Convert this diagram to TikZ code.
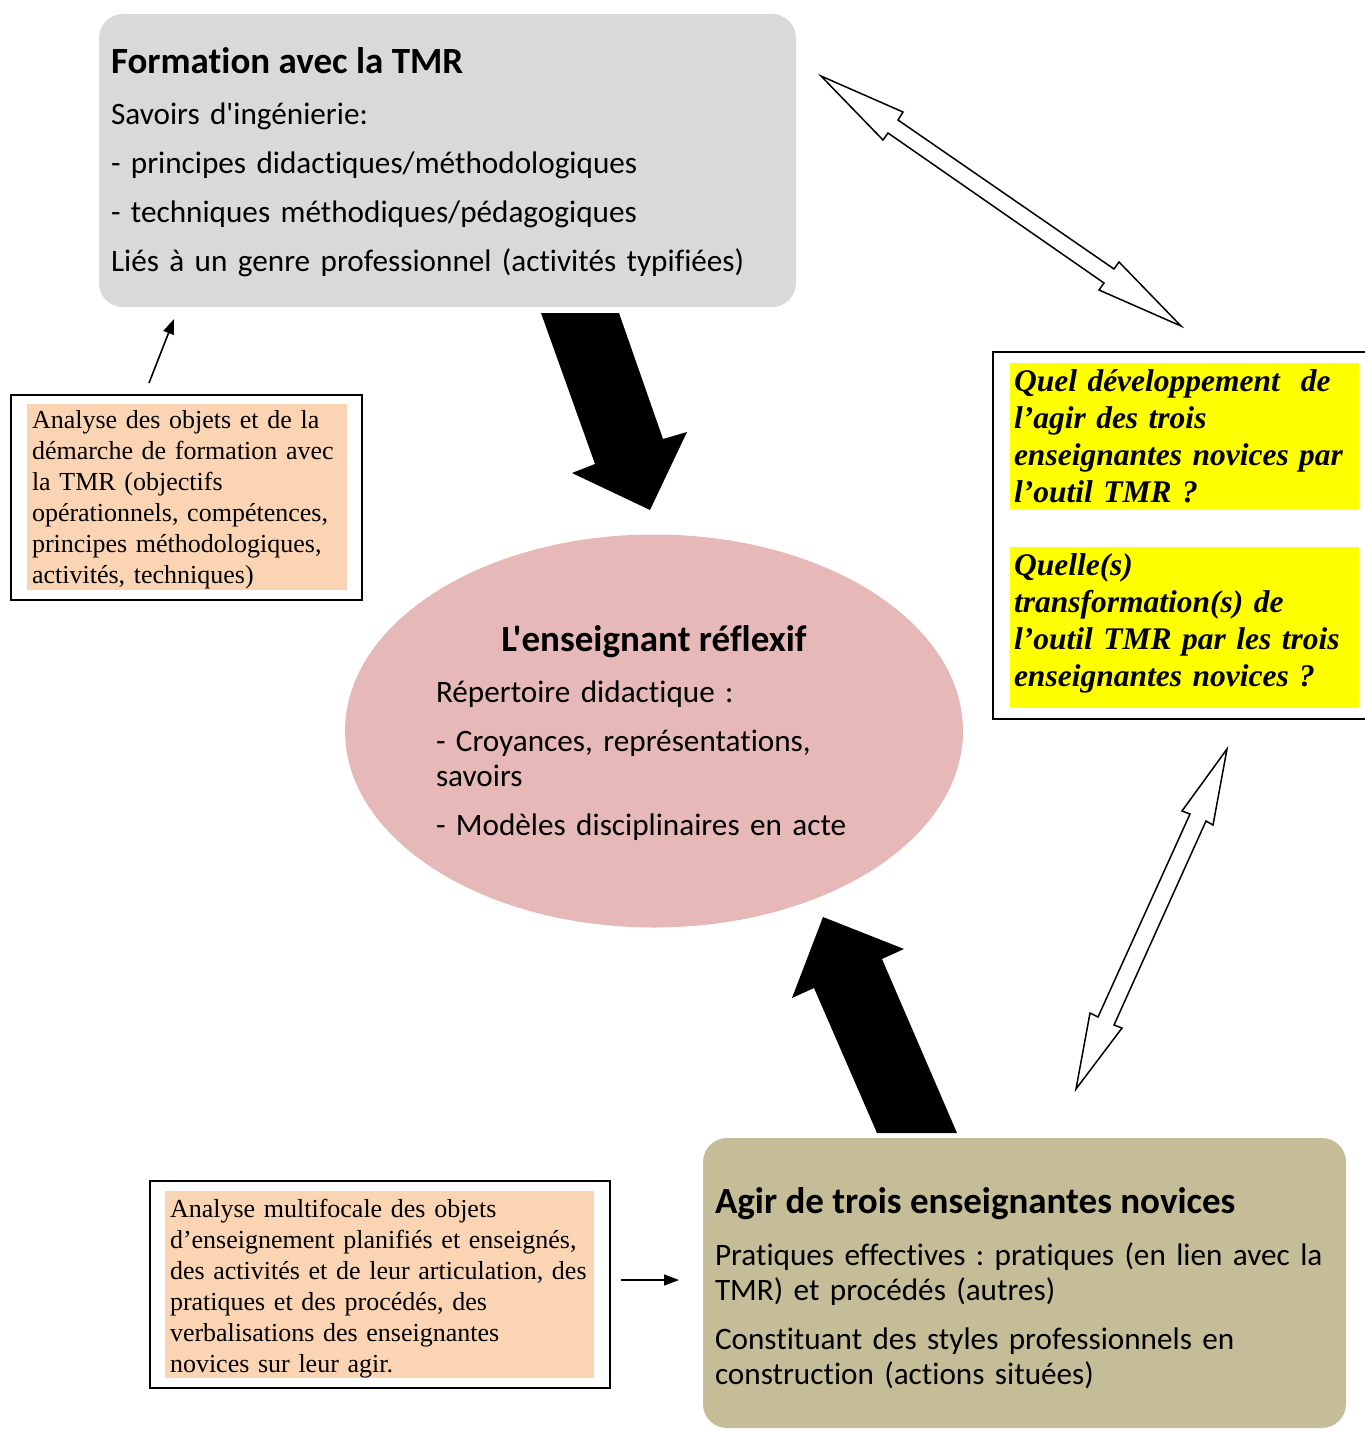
\documentclass[tikz,border=0pt]{standalone}
\usepackage{fontspec}
\setmainfont{Liberation Serif}[Ligatures = NoCommon]
\newfontfamily\calibri{Carlito}[Ligatures = NoCommon]
\usepackage{xcolor}
\usetikzlibrary{arrows.meta, shapes.geometric}
\definecolor{gr}{HTML}{D9D9D9}
\definecolor{rose}{HTML}{E6B8B7}
\definecolor{kaki}{HTML}{C4BD97}
\definecolor{peche}{HTML}{FBD4B4}
\definecolor{jaune}{HTML}{FFFF00}
\frenchspacing

\begin{document}
\begin{tikzpicture}[
      x = 1pt, y = -1pt, % one unit per pixel, y going down
      > = {Triangle[length = 15pt, width = 11pt]}, % arrow head style
      line width = 1.6pt, % line style
    ]

    \tikzstyle{every node}=[inner sep = 0pt, outer sep = 0pt]
    \tikzstyle{bloc}=[rectangle, rounded corners = 24pt, anchor = north west]
    \tikzstyle{cadre}=[rectangle, draw = black, line width = 1.5pt, fill = white, anchor = north west]
    \tikzstyle{fond}=[rectangle, anchor = north west]
    \tikzstyle{texte}=[anchor = base west, align = left, text width = 700pt]
    \tikzstyle{sans}=[font = \calibri\fontsize{31.2}{35}\selectfont]
    \tikzstyle{titre}=[anchor = base west, font = \calibri\bfseries\fontsize{37}{40}\selectfont]
    \tikzstyle{serif}=[font = \fontsize{26}{31}\selectfont]
    \tikzstyle{question}=[font = \bfseries\itshape\fontsize{31.5}{37}\selectfont]
    \tikzstyle{fleche noire}=[fill = black, draw = none]
    \tikzstyle{fleche blanche}=[fill = white, draw = black, line width = 1.5pt, line join = miter]

    \useasboundingbox (0, 0) rectangle (1365, 1430);

    % boxes
    \node[bloc, fill = gr, minimum width = 697pt, minimum height = 293pt] (formation) at (99, 14) {};
    \node[ellipse, fill = rose, minimum width = 618pt, minimum height = 393pt] (reflexif) at (654, 731) {};
    \node[bloc, fill = kaki, minimum width = 643pt, minimum height = 290pt] (agir) at (703, 1138) {};

    \node[cadre, minimum width = 351pt, minimum height = 205pt] (anaformation) at (11, 395) {};
    \node[fond, fill = peche, minimum width = 320pt, minimum height = 186pt] (anaformation-fond) at (27, 404) {};
    \node[cadre, minimum width = 460pt, minimum height = 207pt] (anaagir) at (150, 1181) {};
    \node[fond, fill = peche, minimum width = 429pt, minimum height = 187pt] (anaagir-fond) at (165, 1191) {};

    \node[cadre, minimum width = 390pt, minimum height = 367pt] (questions) at (993, 352) {};
    \node[fond, fill = jaune, minimum width = 349pt, minimum height = 146pt] (question1) at (1010, 363) {};
    \node[fond, fill = jaune, minimum width = 349pt, minimum height = 161pt] (question2) at (1010, 547) {};

    % block arrows
    \fill[fleche noire] (541, 313) -- (619, 313) -- (663, 439) -- (687, 432) -- (650, 510) -- (572, 473) -- (595, 464) -- cycle;
    \fill[fleche noire] (823, 917) -- (904, 949) -- (882, 959) -- (957, 1133) -- (877, 1133) -- (814, 988) -- (792, 998) -- cycle;
    \filldraw[fleche blanche] (821, 76) -- (903, 112) -- (898, 120) -- (1114, 269) -- (1119, 262) -- (1181, 326)
      -- (1099, 290) -- (1104, 283) -- (888, 133) -- (883, 140) -- cycle;
    \filldraw[fleche blanche] (1227, 749) -- (1213, 825) -- (1206, 821) -- (1114, 1025) -- (1122, 1028) -- (1076, 1089)
      -- (1090, 1013) -- (1098, 1017) -- (1190, 814) -- (1182, 811) -- cycle;

    % thin arrows
    \coordinate (p1) at (149, 383);
    \coordinate (p2) at (174, 319);
    \coordinate (q1) at (621, 1280);
    \coordinate (q2) at (679, 1280);
    \path[->] (p1) edge (p2);
    \path[->] (q1) edge (q2);

    % texts
    \node[titre] (formation-titre) at (111, 73) {Formation avec la TMR};
    \node[texte, sans] (formation-texte) at (111, 124) {Savoirs d'ingénierie:\\[14pt]
      - principes didactiques/méthodologiques\\[14pt]
      - techniques méthodiques/pédagogiques\\[14pt]
      Liés à un genre professionnel (activités typifiées)};

    \node[titre, anchor = base] (reflexif-titre) at (654, 651) {L'enseignant réflexif};
    \node[texte, sans] (reflexif-texte) at (436, 702) {Répertoire didactique :\\[14pt]
      - Croyances, représentations,\\
      savoirs\\[14pt]
      - Modèles disciplinaires en acte};

    \node[titre] (agir-titre) at (715, 1213) {Agir de trois enseignantes novices};
    \node[texte, sans] (agir-texte) at (715, 1265) {Pratiques effectives : pratiques (en lien avec la\\
      TMR) et procédés (autres)\\[14pt]
      Constituant des styles professionnels en\\
      construction (actions situées)};

    \node[texte, serif] (anaformation-texte) at (32, 428) {Analyse des objets et de la\\
      démarche de formation avec\\
      la TMR (objectifs\\
      opérationnels, compétences,\\
      principes méthodologiques,\\
      activités, techniques)};

    \node[texte, serif] (anaagir-texte) at (170, 1217) {Analyse multifocale des objets\\
      d’enseignement planifiés et enseignés,\\
      des activités et de leur articulation, des\\
      pratiques et des procédés, des\\
      verbalisations des enseignantes\\
      novices sur leur agir.};

    \node[texte, question] (question1-texte) at (1014, 391) {Quel développement~~de\\
      l’agir des trois\\
      enseignantes novices par\\
      l’outil TMR ?};
    \node[texte, question] (question2-texte) at (1014, 575) {Quelle(s)\\
      transformation(s) de\\
      l’outil TMR par les trois\\
      enseignantes novices ?};

  \end{tikzpicture}
\end{document}
